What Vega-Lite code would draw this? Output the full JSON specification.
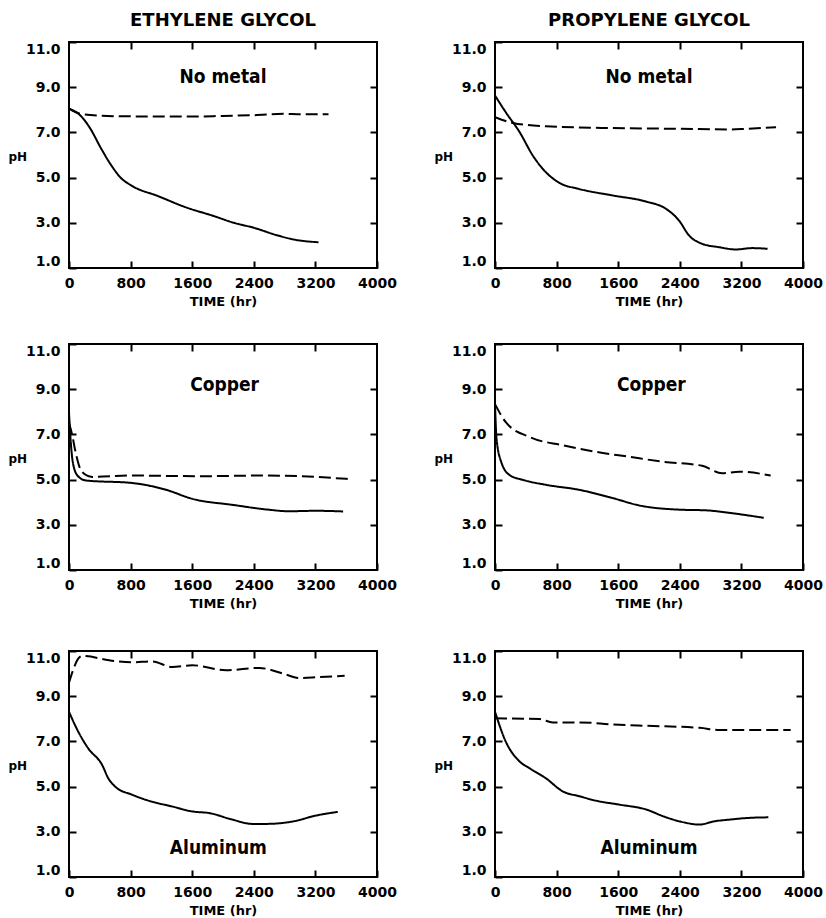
{
  "$schema": "https://vega.github.io/schema/vega-lite/v6.json",
  "background": "white",
  "padding": {"left": 7, "top": 11, "right": 2, "bottom": 0},
  "config": {
    "view": {"stroke": "black", "strokeWidth": 2},
    "axis": {"grid": false, "domain": false, "ticks": true, "tickColor": "black", "tickWidth": 2, "tickSize": -7, "labelFont": "DejaVu Sans", "labelFontWeight": "bold", "labelFontSize": 14, "labelColor": "black", "titleFont": "DejaVu Sans", "titleFontWeight": "bold", "titleColor": "black"},
    "axisX": {"labelPadding": 15, "labelFlush": false, "labelOverlap": false, "titleFontSize": 13, "titlePadding": 5},
    "axisY": {"labelPadding": 16, "titleFontSize": 12, "titleAngle": 0, "titleAlign": "left", "titleBaseline": "middle", "titleX": -61, "titleY": 114, "labelFlush": true},
    "title": {"font": "DejaVu Sans", "fontWeight": "bold", "fontSize": 18, "color": "black", "offset": 11, "anchor": "middle", "frame": "group"},
    "text": {"font": "DejaVu Sans Condensed", "fontWeight": "bold", "fontSize": 19, "color": "black"},
    "line": {"color": "black", "strokeWidth": 2, "interpolate": "monotone"}
  },
  "datasets": {
    "ph": [
      {"glycol": "Ethylene glycol", "metal": "No metal", "series": "Series 1", "time": 0, "pH": 8.05},
      {"glycol": "Ethylene glycol", "metal": "No metal", "series": "Series 1", "time": 150, "pH": 7.74},
      {"glycol": "Ethylene glycol", "metal": "No metal", "series": "Series 1", "time": 280, "pH": 7.15},
      {"glycol": "Ethylene glycol", "metal": "No metal", "series": "Series 1", "time": 410, "pH": 6.33},
      {"glycol": "Ethylene glycol", "metal": "No metal", "series": "Series 1", "time": 540, "pH": 5.59},
      {"glycol": "Ethylene glycol", "metal": "No metal", "series": "Series 1", "time": 670, "pH": 5.0},
      {"glycol": "Ethylene glycol", "metal": "No metal", "series": "Series 1", "time": 820, "pH": 4.63},
      {"glycol": "Ethylene glycol", "metal": "No metal", "series": "Series 1", "time": 1150, "pH": 4.19},
      {"glycol": "Ethylene glycol", "metal": "No metal", "series": "Series 1", "time": 1530, "pH": 3.67},
      {"glycol": "Ethylene glycol", "metal": "No metal", "series": "Series 1", "time": 1880, "pH": 3.3},
      {"glycol": "Ethylene glycol", "metal": "No metal", "series": "Series 1", "time": 2140, "pH": 3.0},
      {"glycol": "Ethylene glycol", "metal": "No metal", "series": "Series 1", "time": 2400, "pH": 2.78},
      {"glycol": "Ethylene glycol", "metal": "No metal", "series": "Series 1", "time": 2700, "pH": 2.45},
      {"glycol": "Ethylene glycol", "metal": "No metal", "series": "Series 1", "time": 2920, "pH": 2.26},
      {"glycol": "Ethylene glycol", "metal": "No metal", "series": "Series 1", "time": 3240, "pH": 2.14},
      {"glycol": "Ethylene glycol", "metal": "No metal", "series": "Series 2", "time": 0, "pH": 8.05},
      {"glycol": "Ethylene glycol", "metal": "No metal", "series": "Series 2", "time": 150, "pH": 7.82},
      {"glycol": "Ethylene glycol", "metal": "No metal", "series": "Series 2", "time": 400, "pH": 7.74},
      {"glycol": "Ethylene glycol", "metal": "No metal", "series": "Series 2", "time": 800, "pH": 7.71},
      {"glycol": "Ethylene glycol", "metal": "No metal", "series": "Series 2", "time": 1600, "pH": 7.7},
      {"glycol": "Ethylene glycol", "metal": "No metal", "series": "Series 2", "time": 2000, "pH": 7.73},
      {"glycol": "Ethylene glycol", "metal": "No metal", "series": "Series 2", "time": 2400, "pH": 7.76},
      {"glycol": "Ethylene glycol", "metal": "No metal", "series": "Series 2", "time": 2800, "pH": 7.82},
      {"glycol": "Ethylene glycol", "metal": "No metal", "series": "Series 2", "time": 3000, "pH": 7.8},
      {"glycol": "Ethylene glycol", "metal": "No metal", "series": "Series 2", "time": 3370, "pH": 7.8},

      {"glycol": "Propylene glycol", "metal": "No metal", "series": "Series 1", "time": 0, "pH": 8.63},
      {"glycol": "Propylene glycol", "metal": "No metal", "series": "Series 1", "time": 140, "pH": 7.89},
      {"glycol": "Propylene glycol", "metal": "No metal", "series": "Series 1", "time": 320, "pH": 7.01},
      {"glycol": "Propylene glycol", "metal": "No metal", "series": "Series 1", "time": 490, "pH": 5.98},
      {"glycol": "Propylene glycol", "metal": "No metal", "series": "Series 1", "time": 660, "pH": 5.24},
      {"glycol": "Propylene glycol", "metal": "No metal", "series": "Series 1", "time": 835, "pH": 4.77},
      {"glycol": "Propylene glycol", "metal": "No metal", "series": "Series 1", "time": 1090, "pH": 4.5},
      {"glycol": "Propylene glycol", "metal": "No metal", "series": "Series 1", "time": 1530, "pH": 4.21},
      {"glycol": "Propylene glycol", "metal": "No metal", "series": "Series 1", "time": 1960, "pH": 3.94},
      {"glycol": "Propylene glycol", "metal": "No metal", "series": "Series 1", "time": 2220, "pH": 3.62},
      {"glycol": "Propylene glycol", "metal": "No metal", "series": "Series 1", "time": 2390, "pH": 3.1},
      {"glycol": "Propylene glycol", "metal": "No metal", "series": "Series 1", "time": 2520, "pH": 2.44},
      {"glycol": "Propylene glycol", "metal": "No metal", "series": "Series 1", "time": 2690, "pH": 2.07},
      {"glycol": "Propylene glycol", "metal": "No metal", "series": "Series 1", "time": 2910, "pH": 1.92},
      {"glycol": "Propylene glycol", "metal": "No metal", "series": "Series 1", "time": 3130, "pH": 1.82},
      {"glycol": "Propylene glycol", "metal": "No metal", "series": "Series 1", "time": 3340, "pH": 1.88},
      {"glycol": "Propylene glycol", "metal": "No metal", "series": "Series 1", "time": 3540, "pH": 1.85},
      {"glycol": "Propylene glycol", "metal": "No metal", "series": "Series 2", "time": 0, "pH": 7.67},
      {"glycol": "Propylene glycol", "metal": "No metal", "series": "Series 2", "time": 230, "pH": 7.42},
      {"glycol": "Propylene glycol", "metal": "No metal", "series": "Series 2", "time": 660, "pH": 7.27},
      {"glycol": "Propylene glycol", "metal": "No metal", "series": "Series 2", "time": 1530, "pH": 7.19},
      {"glycol": "Propylene glycol", "metal": "No metal", "series": "Series 2", "time": 2390, "pH": 7.16},
      {"glycol": "Propylene glycol", "metal": "No metal", "series": "Series 2", "time": 3040, "pH": 7.13},
      {"glycol": "Propylene glycol", "metal": "No metal", "series": "Series 2", "time": 3260, "pH": 7.16},
      {"glycol": "Propylene glycol", "metal": "No metal", "series": "Series 2", "time": 3650, "pH": 7.23},

      {"glycol": "Ethylene glycol", "metal": "Copper", "series": "Series 1", "time": 0, "pH": 7.97},
      {"glycol": "Ethylene glycol", "metal": "Copper", "series": "Series 1", "time": 20, "pH": 6.8},
      {"glycol": "Ethylene glycol", "metal": "Copper", "series": "Series 1", "time": 50, "pH": 5.76},
      {"glycol": "Ethylene glycol", "metal": "Copper", "series": "Series 1", "time": 110, "pH": 5.18},
      {"glycol": "Ethylene glycol", "metal": "Copper", "series": "Series 1", "time": 220, "pH": 4.96},
      {"glycol": "Ethylene glycol", "metal": "Copper", "series": "Series 1", "time": 820, "pH": 4.85},
      {"glycol": "Ethylene glycol", "metal": "Copper", "series": "Series 1", "time": 1260, "pH": 4.55},
      {"glycol": "Ethylene glycol", "metal": "Copper", "series": "Series 1", "time": 1600, "pH": 4.15},
      {"glycol": "Ethylene glycol", "metal": "Copper", "series": "Series 1", "time": 2130, "pH": 3.88},
      {"glycol": "Ethylene glycol", "metal": "Copper", "series": "Series 1", "time": 2560, "pH": 3.68},
      {"glycol": "Ethylene glycol", "metal": "Copper", "series": "Series 1", "time": 2860, "pH": 3.6},
      {"glycol": "Ethylene glycol", "metal": "Copper", "series": "Series 1", "time": 3210, "pH": 3.62},
      {"glycol": "Ethylene glycol", "metal": "Copper", "series": "Series 1", "time": 3560, "pH": 3.59},
      {"glycol": "Ethylene glycol", "metal": "Copper", "series": "Series 2", "time": 0, "pH": 7.5},
      {"glycol": "Ethylene glycol", "metal": "Copper", "series": "Series 2", "time": 40, "pH": 7.0},
      {"glycol": "Ethylene glycol", "metal": "Copper", "series": "Series 2", "time": 80, "pH": 6.3},
      {"glycol": "Ethylene glycol", "metal": "Copper", "series": "Series 2", "time": 130, "pH": 5.62},
      {"glycol": "Ethylene glycol", "metal": "Copper", "series": "Series 2", "time": 200, "pH": 5.25},
      {"glycol": "Ethylene glycol", "metal": "Copper", "series": "Series 2", "time": 300, "pH": 5.12},
      {"glycol": "Ethylene glycol", "metal": "Copper", "series": "Series 2", "time": 820, "pH": 5.18},
      {"glycol": "Ethylene glycol", "metal": "Copper", "series": "Series 2", "time": 1690, "pH": 5.15},
      {"glycol": "Ethylene glycol", "metal": "Copper", "series": "Series 2", "time": 2560, "pH": 5.18},
      {"glycol": "Ethylene glycol", "metal": "Copper", "series": "Series 2", "time": 3000, "pH": 5.15},
      {"glycol": "Ethylene glycol", "metal": "Copper", "series": "Series 2", "time": 3620, "pH": 5.03},

      {"glycol": "Propylene glycol", "metal": "Copper", "series": "Series 1", "time": 0, "pH": 8.34},
      {"glycol": "Propylene glycol", "metal": "Copper", "series": "Series 1", "time": 20, "pH": 6.81},
      {"glycol": "Propylene glycol", "metal": "Copper", "series": "Series 1", "time": 80, "pH": 5.79},
      {"glycol": "Propylene glycol", "metal": "Copper", "series": "Series 1", "time": 190, "pH": 5.2},
      {"glycol": "Propylene glycol", "metal": "Copper", "series": "Series 1", "time": 360, "pH": 4.99},
      {"glycol": "Propylene glycol", "metal": "Copper", "series": "Series 1", "time": 660, "pH": 4.77},
      {"glycol": "Propylene glycol", "metal": "Copper", "series": "Series 1", "time": 1090, "pH": 4.55},
      {"glycol": "Propylene glycol", "metal": "Copper", "series": "Series 1", "time": 1530, "pH": 4.18},
      {"glycol": "Propylene glycol", "metal": "Copper", "series": "Series 1", "time": 1870, "pH": 3.86},
      {"glycol": "Propylene glycol", "metal": "Copper", "series": "Series 1", "time": 2390, "pH": 3.67},
      {"glycol": "Propylene glycol", "metal": "Copper", "series": "Series 1", "time": 2740, "pH": 3.64},
      {"glycol": "Propylene glycol", "metal": "Copper", "series": "Series 1", "time": 3040, "pH": 3.53},
      {"glycol": "Propylene glycol", "metal": "Copper", "series": "Series 1", "time": 3490, "pH": 3.31},
      {"glycol": "Propylene glycol", "metal": "Copper", "series": "Series 2", "time": 0, "pH": 8.34},
      {"glycol": "Propylene glycol", "metal": "Copper", "series": "Series 2", "time": 140, "pH": 7.54},
      {"glycol": "Propylene glycol", "metal": "Copper", "series": "Series 2", "time": 450, "pH": 6.88},
      {"glycol": "Propylene glycol", "metal": "Copper", "series": "Series 2", "time": 880, "pH": 6.52},
      {"glycol": "Propylene glycol", "metal": "Copper", "series": "Series 2", "time": 1310, "pH": 6.23},
      {"glycol": "Propylene glycol", "metal": "Copper", "series": "Series 2", "time": 1740, "pH": 6.01},
      {"glycol": "Propylene glycol", "metal": "Copper", "series": "Series 2", "time": 2180, "pH": 5.79},
      {"glycol": "Propylene glycol", "metal": "Copper", "series": "Series 2", "time": 2690, "pH": 5.61},
      {"glycol": "Propylene glycol", "metal": "Copper", "series": "Series 2", "time": 2950, "pH": 5.28},
      {"glycol": "Propylene glycol", "metal": "Copper", "series": "Series 2", "time": 3170, "pH": 5.35},
      {"glycol": "Propylene glycol", "metal": "Copper", "series": "Series 2", "time": 3580, "pH": 5.18},

      {"glycol": "Ethylene glycol", "metal": "Aluminum", "series": "Series 1", "time": 0, "pH": 8.31},
      {"glycol": "Ethylene glycol", "metal": "Aluminum", "series": "Series 1", "time": 120, "pH": 7.43},
      {"glycol": "Ethylene glycol", "metal": "Aluminum", "series": "Series 1", "time": 250, "pH": 6.69},
      {"glycol": "Ethylene glycol", "metal": "Aluminum", "series": "Series 1", "time": 430, "pH": 5.96},
      {"glycol": "Ethylene glycol", "metal": "Aluminum", "series": "Series 1", "time": 510, "pH": 5.37},
      {"glycol": "Ethylene glycol", "metal": "Aluminum", "series": "Series 1", "time": 600, "pH": 5.0},
      {"glycol": "Ethylene glycol", "metal": "Aluminum", "series": "Series 1", "time": 820, "pH": 4.64},
      {"glycol": "Ethylene glycol", "metal": "Aluminum", "series": "Series 1", "time": 1040, "pH": 4.37},
      {"glycol": "Ethylene glycol", "metal": "Aluminum", "series": "Series 1", "time": 1340, "pH": 4.12},
      {"glycol": "Ethylene glycol", "metal": "Aluminum", "series": "Series 1", "time": 1600, "pH": 3.9},
      {"glycol": "Ethylene glycol", "metal": "Aluminum", "series": "Series 1", "time": 1820, "pH": 3.83},
      {"glycol": "Ethylene glycol", "metal": "Aluminum", "series": "Series 1", "time": 2120, "pH": 3.54},
      {"glycol": "Ethylene glycol", "metal": "Aluminum", "series": "Series 1", "time": 2380, "pH": 3.35},
      {"glycol": "Ethylene glycol", "metal": "Aluminum", "series": "Series 1", "time": 2560, "pH": 3.35},
      {"glycol": "Ethylene glycol", "metal": "Aluminum", "series": "Series 1", "time": 2910, "pH": 3.46},
      {"glycol": "Ethylene glycol", "metal": "Aluminum", "series": "Series 1", "time": 3210, "pH": 3.72},
      {"glycol": "Ethylene glycol", "metal": "Aluminum", "series": "Series 1", "time": 3490, "pH": 3.88},
      {"glycol": "Ethylene glycol", "metal": "Aluminum", "series": "Series 2", "time": 0, "pH": 9.6},
      {"glycol": "Ethylene glycol", "metal": "Aluminum", "series": "Series 2", "time": 60, "pH": 10.22},
      {"glycol": "Ethylene glycol", "metal": "Aluminum", "series": "Series 2", "time": 120, "pH": 10.66},
      {"glycol": "Ethylene glycol", "metal": "Aluminum", "series": "Series 2", "time": 170, "pH": 10.78},
      {"glycol": "Ethylene glycol", "metal": "Aluminum", "series": "Series 2", "time": 600, "pH": 10.55},
      {"glycol": "Ethylene glycol", "metal": "Aluminum", "series": "Series 2", "time": 820, "pH": 10.5},
      {"glycol": "Ethylene glycol", "metal": "Aluminum", "series": "Series 2", "time": 1080, "pH": 10.54},
      {"glycol": "Ethylene glycol", "metal": "Aluminum", "series": "Series 2", "time": 1340, "pH": 10.29},
      {"glycol": "Ethylene glycol", "metal": "Aluminum", "series": "Series 2", "time": 1600, "pH": 10.37},
      {"glycol": "Ethylene glycol", "metal": "Aluminum", "series": "Series 2", "time": 2040, "pH": 10.15},
      {"glycol": "Ethylene glycol", "metal": "Aluminum", "series": "Series 2", "time": 2470, "pH": 10.25},
      {"glycol": "Ethylene glycol", "metal": "Aluminum", "series": "Series 2", "time": 2780, "pH": 10.0},
      {"glycol": "Ethylene glycol", "metal": "Aluminum", "series": "Series 2", "time": 2990, "pH": 9.8},
      {"glycol": "Ethylene glycol", "metal": "Aluminum", "series": "Series 2", "time": 3250, "pH": 9.85},
      {"glycol": "Ethylene glycol", "metal": "Aluminum", "series": "Series 2", "time": 3580, "pH": 9.9},

      {"glycol": "Propylene glycol", "metal": "Aluminum", "series": "Series 1", "time": 0, "pH": 8.31},
      {"glycol": "Propylene glycol", "metal": "Aluminum", "series": "Series 1", "time": 140, "pH": 6.99},
      {"glycol": "Propylene glycol", "metal": "Aluminum", "series": "Series 1", "time": 320, "pH": 6.11},
      {"glycol": "Propylene glycol", "metal": "Aluminum", "series": "Series 1", "time": 450, "pH": 5.81},
      {"glycol": "Propylene glycol", "metal": "Aluminum", "series": "Series 1", "time": 660, "pH": 5.37},
      {"glycol": "Propylene glycol", "metal": "Aluminum", "series": "Series 1", "time": 880, "pH": 4.79},
      {"glycol": "Propylene glycol", "metal": "Aluminum", "series": "Series 1", "time": 1100, "pH": 4.57},
      {"glycol": "Propylene glycol", "metal": "Aluminum", "series": "Series 1", "time": 1320, "pH": 4.37},
      {"glycol": "Propylene glycol", "metal": "Aluminum", "series": "Series 1", "time": 1620, "pH": 4.2},
      {"glycol": "Propylene glycol", "metal": "Aluminum", "series": "Series 1", "time": 1970, "pH": 3.98},
      {"glycol": "Propylene glycol", "metal": "Aluminum", "series": "Series 1", "time": 2190, "pH": 3.68},
      {"glycol": "Propylene glycol", "metal": "Aluminum", "series": "Series 1", "time": 2400, "pH": 3.46},
      {"glycol": "Propylene glycol", "metal": "Aluminum", "series": "Series 1", "time": 2660, "pH": 3.32},
      {"glycol": "Propylene glycol", "metal": "Aluminum", "series": "Series 1", "time": 2840, "pH": 3.46},
      {"glycol": "Propylene glycol", "metal": "Aluminum", "series": "Series 1", "time": 3050, "pH": 3.54},
      {"glycol": "Propylene glycol", "metal": "Aluminum", "series": "Series 1", "time": 3270, "pH": 3.61},
      {"glycol": "Propylene glycol", "metal": "Aluminum", "series": "Series 1", "time": 3550, "pH": 3.64},
      {"glycol": "Propylene glycol", "metal": "Aluminum", "series": "Series 2", "time": 0, "pH": 8.02},
      {"glycol": "Propylene glycol", "metal": "Aluminum", "series": "Series 2", "time": 580, "pH": 7.99},
      {"glycol": "Propylene glycol", "metal": "Aluminum", "series": "Series 2", "time": 750, "pH": 7.84},
      {"glycol": "Propylene glycol", "metal": "Aluminum", "series": "Series 2", "time": 1100, "pH": 7.84},
      {"glycol": "Propylene glycol", "metal": "Aluminum", "series": "Series 2", "time": 1530, "pH": 7.75},
      {"glycol": "Propylene glycol", "metal": "Aluminum", "series": "Series 2", "time": 1970, "pH": 7.69},
      {"glycol": "Propylene glycol", "metal": "Aluminum", "series": "Series 2", "time": 2660, "pH": 7.6},
      {"glycol": "Propylene glycol", "metal": "Aluminum", "series": "Series 2", "time": 2920, "pH": 7.5},
      {"glycol": "Propylene glycol", "metal": "Aluminum", "series": "Series 2", "time": 3270, "pH": 7.5},
      {"glycol": "Propylene glycol", "metal": "Aluminum", "series": "Series 2", "time": 3840, "pH": 7.5}
    ]
  },
  "data": {"name": "ph"},
  "spacing": 33,
  "vconcat": [
    {
      "spacing": 35,
      "hconcat": [
        {
          "width": 308, "height": 226,
          "title": {"text": "ETHYLENE GLYCOL"},
          "transform": [{"filter": "datum.glycol === 'Ethylene glycol' && datum.metal === 'No metal'"}],
          "resolve": {"axis": {"x": "independent", "y": "independent"}},
          "layer": [
            {"mark": {"type": "line"},
             "encoding": {
               "x": {"field": "time", "type": "quantitative", "scale": {"domain": [0, 4000], "nice": false}, "axis": {"values": [0, 800, 1600, 2400, 3200, 4000], "format": "d", "title": "TIME (hr)"}},
               "y": {"field": "pH", "type": "quantitative", "scale": {"domain": [1, 11], "nice": false, "zero": false}, "axis": {"values": [1, 3, 5, 7, 9, 11], "format": ".1f", "title": "pH"}},
               "strokeDash": {"field": "series", "type": "nominal", "scale": {"domain": ["Series 1", "Series 2"], "range": [[1, 0], [12, 5]]}, "legend": null}}},
            {"mark": {"type": "line", "opacity": 0},
             "encoding": {
               "x": {"field": "time", "type": "quantitative", "axis": {"orient": "top", "labels": false, "title": null, "values": [800, 1600, 2400, 3200]}},
               "y": {"field": "pH", "type": "quantitative", "axis": {"orient": "right", "labels": false, "title": null, "values": [3, 5, 7, 9]}}}},
            {"data": {"values": [{}]},
             "mark": {"type": "text"},
             "encoding": {"x": {"datum": 2000, "type": "quantitative", "axis": null}, "y": {"datum": 9.45, "type": "quantitative", "axis": null}, "text": {"value": "No metal"}}}
          ]
        },
        {
          "width": 308, "height": 226,
          "title": {"text": "PROPYLENE GLYCOL"},
          "transform": [{"filter": "datum.glycol === 'Propylene glycol' && datum.metal === 'No metal'"}],
          "resolve": {"axis": {"x": "independent", "y": "independent"}},
          "layer": [
            {"mark": {"type": "line"},
             "encoding": {
               "x": {"field": "time", "type": "quantitative", "scale": {"domain": [0, 4000], "nice": false}, "axis": {"values": [0, 800, 1600, 2400, 3200, 4000], "format": "d", "title": "TIME (hr)"}},
               "y": {"field": "pH", "type": "quantitative", "scale": {"domain": [1, 11], "nice": false, "zero": false}, "axis": {"values": [1, 3, 5, 7, 9, 11], "format": ".1f", "title": "pH"}},
               "strokeDash": {"field": "series", "type": "nominal", "scale": {"domain": ["Series 1", "Series 2"], "range": [[1, 0], [12, 5]]}, "legend": null}}},
            {"mark": {"type": "line", "opacity": 0},
             "encoding": {
               "x": {"field": "time", "type": "quantitative", "axis": {"orient": "top", "labels": false, "title": null, "values": [800, 1600, 2400, 3200]}},
               "y": {"field": "pH", "type": "quantitative", "axis": {"orient": "right", "labels": false, "title": null, "values": [3, 5, 7, 9]}}}},
            {"data": {"values": [{}]},
             "mark": {"type": "text"},
             "encoding": {"x": {"datum": 2000, "type": "quantitative", "axis": null}, "y": {"datum": 9.45, "type": "quantitative", "axis": null}, "text": {"value": "No metal"}}}
          ]
        }
      ]
    },
    {
      "spacing": 38,
      "vconcat": [
        {
          "spacing": 35,
          "hconcat": [
            {
              "width": 308, "height": 226,
              "transform": [{"filter": "datum.glycol === 'Ethylene glycol' && datum.metal === 'Copper'"}],
              "resolve": {"axis": {"x": "independent", "y": "independent"}},
              "layer": [
                {"mark": {"type": "line"},
                 "encoding": {
                   "x": {"field": "time", "type": "quantitative", "scale": {"domain": [0, 4000], "nice": false}, "axis": {"values": [0, 800, 1600, 2400, 3200, 4000], "format": "d", "title": "TIME (hr)"}},
                   "y": {"field": "pH", "type": "quantitative", "scale": {"domain": [1, 11], "nice": false, "zero": false}, "axis": {"values": [1, 3, 5, 7, 9, 11], "format": ".1f", "title": "pH"}},
                   "strokeDash": {"field": "series", "type": "nominal", "scale": {"domain": ["Series 1", "Series 2"], "range": [[1, 0], [12, 5]]}, "legend": null}}},
                {"mark": {"type": "line", "opacity": 0},
                 "encoding": {
                   "x": {"field": "time", "type": "quantitative", "axis": {"orient": "top", "labels": false, "title": null, "values": [800, 1600, 2400, 3200]}},
                   "y": {"field": "pH", "type": "quantitative", "axis": {"orient": "right", "labels": false, "title": null, "values": [3, 5, 7, 9]}}}},
                {"data": {"values": [{}]},
                 "mark": {"type": "text"},
                 "encoding": {"x": {"datum": 2020, "type": "quantitative", "axis": null}, "y": {"datum": 9.2, "type": "quantitative", "axis": null}, "text": {"value": "Copper"}}}
              ]
            },
            {
              "width": 308, "height": 226,
              "transform": [{"filter": "datum.glycol === 'Propylene glycol' && datum.metal === 'Copper'"}],
              "resolve": {"axis": {"x": "independent", "y": "independent"}},
              "layer": [
                {"mark": {"type": "line"},
                 "encoding": {
                   "x": {"field": "time", "type": "quantitative", "scale": {"domain": [0, 4000], "nice": false}, "axis": {"values": [0, 800, 1600, 2400, 3200, 4000], "format": "d", "title": "TIME (hr)"}},
                   "y": {"field": "pH", "type": "quantitative", "scale": {"domain": [1, 11], "nice": false, "zero": false}, "axis": {"values": [1, 3, 5, 7, 9, 11], "format": ".1f", "title": "pH"}},
                   "strokeDash": {"field": "series", "type": "nominal", "scale": {"domain": ["Series 1", "Series 2"], "range": [[1, 0], [12, 5]]}, "legend": null}}},
                {"mark": {"type": "line", "opacity": 0},
                 "encoding": {
                   "x": {"field": "time", "type": "quantitative", "axis": {"orient": "top", "labels": false, "title": null, "values": [800, 1600, 2400, 3200]}},
                   "y": {"field": "pH", "type": "quantitative", "axis": {"orient": "right", "labels": false, "title": null, "values": [3, 5, 7, 9]}}}},
                {"data": {"values": [{}]},
                 "mark": {"type": "text"},
                 "encoding": {"x": {"datum": 2030, "type": "quantitative", "axis": null}, "y": {"datum": 9.2, "type": "quantitative", "axis": null}, "text": {"value": "Copper"}}}
              ]
            }
          ]
        },
        {
          "spacing": 35,
          "hconcat": [
            {
              "width": 308, "height": 226,
              "transform": [{"filter": "datum.glycol === 'Ethylene glycol' && datum.metal === 'Aluminum'"}],
              "resolve": {"axis": {"x": "independent", "y": "independent"}},
              "layer": [
                {"mark": {"type": "line"},
                 "encoding": {
                   "x": {"field": "time", "type": "quantitative", "scale": {"domain": [0, 4000], "nice": false}, "axis": {"values": [0, 800, 1600, 2400, 3200, 4000], "format": "d", "title": "TIME (hr)"}},
                   "y": {"field": "pH", "type": "quantitative", "scale": {"domain": [1, 11], "nice": false, "zero": false}, "axis": {"values": [1, 3, 5, 7, 9, 11], "format": ".1f", "title": "pH"}},
                   "strokeDash": {"field": "series", "type": "nominal", "scale": {"domain": ["Series 1", "Series 2"], "range": [[1, 0], [12, 5]]}, "legend": null}}},
                {"mark": {"type": "line", "opacity": 0},
                 "encoding": {
                   "x": {"field": "time", "type": "quantitative", "axis": {"orient": "top", "labels": false, "title": null, "values": [800, 1600, 2400, 3200]}},
                   "y": {"field": "pH", "type": "quantitative", "axis": {"orient": "right", "labels": false, "title": null, "values": [3, 5, 7, 9]}}}},
                {"data": {"values": [{}]},
                 "mark": {"type": "text"},
                 "encoding": {"x": {"datum": 1940, "type": "quantitative", "axis": null}, "y": {"datum": 2.28, "type": "quantitative", "axis": null}, "text": {"value": "Aluminum"}}}
              ]
            },
            {
              "width": 308, "height": 226,
              "transform": [{"filter": "datum.glycol === 'Propylene glycol' && datum.metal === 'Aluminum'"}],
              "resolve": {"axis": {"x": "independent", "y": "independent"}},
              "layer": [
                {"mark": {"type": "line"},
                 "encoding": {
                   "x": {"field": "time", "type": "quantitative", "scale": {"domain": [0, 4000], "nice": false}, "axis": {"values": [0, 800, 1600, 2400, 3200, 4000], "format": "d", "title": "TIME (hr)"}},
                   "y": {"field": "pH", "type": "quantitative", "scale": {"domain": [1, 11], "nice": false, "zero": false}, "axis": {"values": [1, 3, 5, 7, 9, 11], "format": ".1f", "title": "pH"}},
                   "strokeDash": {"field": "series", "type": "nominal", "scale": {"domain": ["Series 1", "Series 2"], "range": [[1, 0], [12, 5]]}, "legend": null}}},
                {"mark": {"type": "line", "opacity": 0},
                 "encoding": {
                   "x": {"field": "time", "type": "quantitative", "axis": {"orient": "top", "labels": false, "title": null, "values": [800, 1600, 2400, 3200]}},
                   "y": {"field": "pH", "type": "quantitative", "axis": {"orient": "right", "labels": false, "title": null, "values": [3, 5, 7, 9]}}}},
                {"data": {"values": [{}]},
                 "mark": {"type": "text"},
                 "encoding": {"x": {"datum": 2000, "type": "quantitative", "axis": null}, "y": {"datum": 2.28, "type": "quantitative", "axis": null}, "text": {"value": "Aluminum"}}}
              ]
            }
          ]
        }
      ]
    }
  ]
}
